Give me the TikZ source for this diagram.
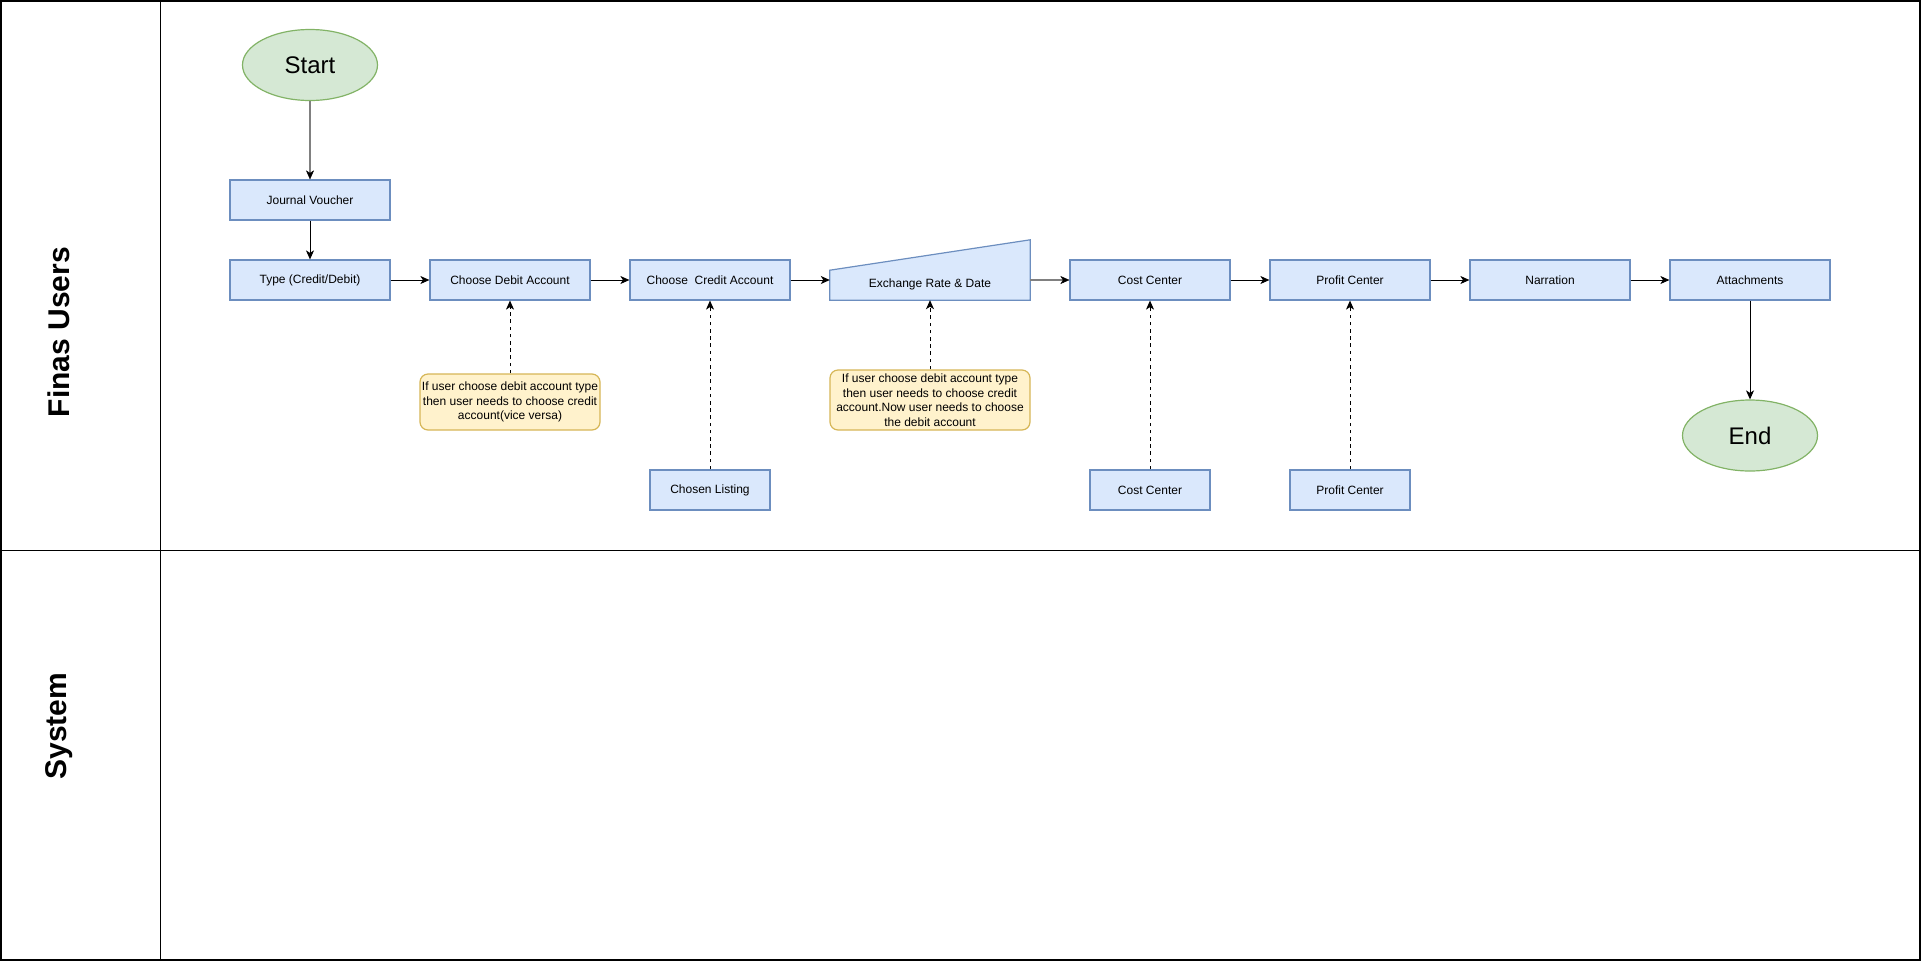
\documentclass[tikz,border=0pt]{standalone}
\usepackage{fontspec}
\setmainfont{Liberation Sans}
\usetikzlibrary{arrows.meta,shapes.geometric}
\definecolor{bfill}{HTML}{DAE8FC}
\definecolor{bdraw}{HTML}{6C8EBF}
\definecolor{gfill}{HTML}{D5E8D4}
\definecolor{gdraw}{HTML}{82B366}
\definecolor{yfill}{HTML}{FFF2CC}
\definecolor{ydraw}{HTML}{D6B656}
\definecolor{lgray}{HTML}{808080}
\tikzset{
  bluebox/.style={draw=bdraw, fill=bfill, line width=1.2pt, minimum width=160pt, minimum height=40pt, inner sep=0pt, font=\fontsize{12}{14}\selectfont},
  smallbox/.style={bluebox, minimum width=120pt},
  term/.style={ellipse, draw=gdraw, fill=gfill, line width=1.2pt, minimum width=135pt, minimum height=71pt, inner sep=0pt, font=\fontsize{24}{28}\selectfont},
  notebox/.style={draw=ydraw, fill=yfill, line width=1.2pt, rounded corners=8pt, inner sep=0pt, align=center, font=\fontsize{12}{14.5}\selectfont},
  flow/.style={line width=1pt, -{Stealth[length=9pt,width=8pt,inset=2.5pt]}},
  grayflow/.style={draw=lgray, line width=2.4pt, -{Stealth[length=9pt,width=8pt,inset=2.5pt,color=black,fill=black,line width=0.5pt]}},
  dflow/.style={line width=1pt, dash pattern=on 3.6pt off 3.6pt, -{Stealth[length=9pt,width=8pt,inset=2.5pt]}},
  lanelabel/.style={rotate=90, font=\fontsize{30}{34}\selectfont\bfseries}
}
\begin{document}
\begin{tikzpicture}[x=1pt,y=-1pt]
\useasboundingbox (0,0) rectangle (1923,962);
% swimlanes
\draw[line width=1.3pt] (1,1) rectangle (1920,960);
\draw[line width=1.3pt] (160.5,1) -- (160.5,960);
\draw[line width=1.3pt] (1,550.5) -- (1920,550.5);
\node[lanelabel] (lane1) at (59,332) {Finas Users};
\node[lanelabel] (lane2) at (59,726) {System};

% nodes
\node[term] (start) at (310,65) {Start};
\node[bluebox] (jv) at (310,200) {Journal Voucher};
\node[bluebox] (type) at (310,280) {Type (Credit/Debit)};
\node[bluebox] (deb) at (510,280) {Choose Debit Account};
\node[bluebox] (cre) at (710,280) {Choose\ \ Credit Account};
\node[minimum width=200pt, minimum height=60pt, inner sep=0pt] (ex) at (930,270) {};
\draw[draw=bdraw, fill=bfill, line width=1.2pt] (ex.south west) -- ++(0,-30) -- (ex.north east) -- (ex.south east) -- cycle;
\node[font=\fontsize{12}{14}\selectfont] (extext) at (930,284.5) {Exchange Rate \& Date};
\node[bluebox] (cc) at (1150,280) {Cost Center};
\node[bluebox] (pc) at (1350,280) {Profit Center};
\node[bluebox] (nar) at (1550,280) {Narration};
\node[bluebox] (att) at (1750,280) {Attachments};
\node[term] (end) at (1750,435.5) {End};

\node[notebox, minimum width=180pt, minimum height=56pt] (n1) at (510,402) {If user choose debit account type\\then user needs to choose credit\\account(vice versa)};
\node[notebox, minimum width=200pt, minimum height=60pt] (n2) at (930,400) {If user choose debit account type\\then user needs to choose credit\\account.Now user needs to choose\\the debit account};

\node[smallbox] (cl) at (710,490) {Chosen Listing};
\node[smallbox] (cc2) at (1150,490) {Cost Center};
\node[smallbox] (pc2) at (1350,490) {Profit Center};

% connectors
\draw[grayflow] (start) -- (jv);
\draw[flow] (jv) -- (type);
\draw[flow] (type) -- (deb);
\draw[flow] (deb) -- (cre);
\draw[flow] (cre.east) -- (cre.east -| ex.west);
\draw[grayflow] (ex.east |- cc.west) -- (cc.west);
\draw[flow] (cc) -- (pc);
\draw[flow] (pc) -- (nar);
\draw[flow] (nar) -- (att);
\draw[flow] (att) -- (end);

\draw[dflow] (n1) -- (deb);
\draw[dflow] (cl) -- (cre);
\draw[dflow] (n2) -- (ex.south);
\draw[dflow] (cc2) -- (cc);
\draw[dflow] (pc2) -- (pc);
\end{tikzpicture}
\end{document}
